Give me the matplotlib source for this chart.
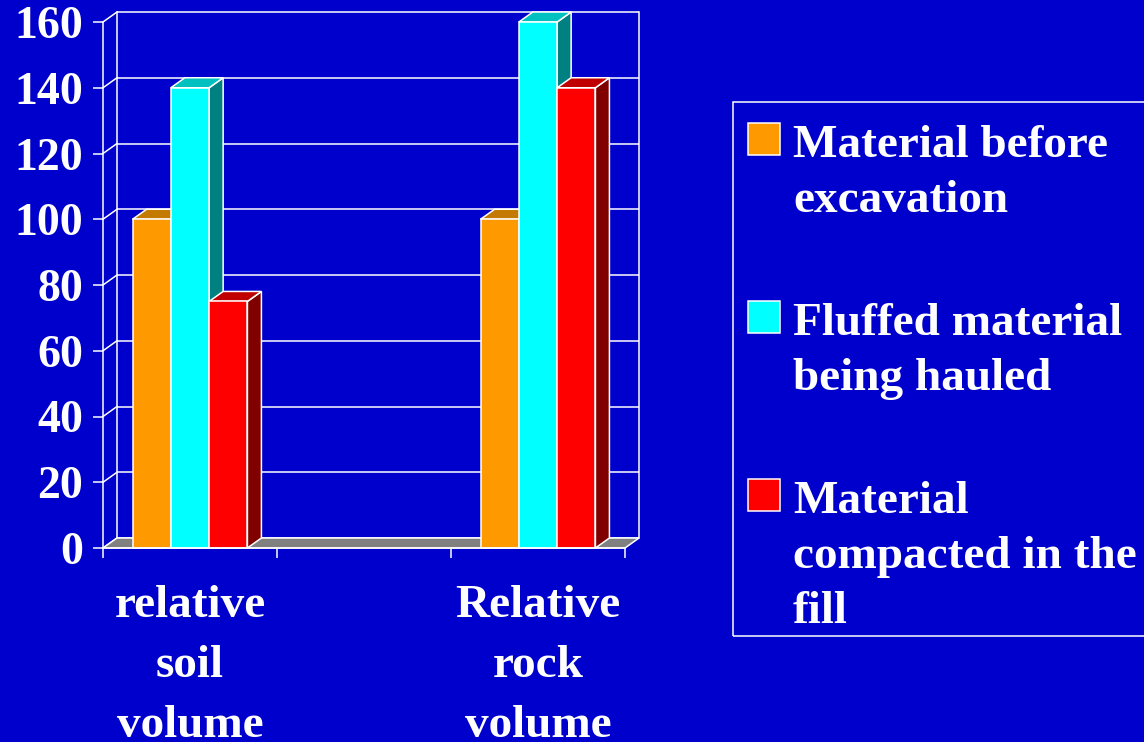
import matplotlib
matplotlib.use("Agg")
import matplotlib.pyplot as plt
from matplotlib.patches import Polygon, Rectangle
from matplotlib.transforms import blended_transform_factory

# ---------------- data ----------------
categories = ["relative\nsoil\nvolume", "Relative\nrock\nvolume"]
series_names = ["Material before\nexcavation",
                "Fluffed material\nbeing hauled",
                "Material\ncompacted in the\nfill"]
before_excavation = [100, 100]
fluffed_hauled = [140, 160]
compacted_fill = [75, 140]
series_values = [before_excavation, fluffed_hauled, compacted_fill]
yticks = [0, 20, 40, 60, 80, 100, 120, 140, 160]

# ---------------- style ----------------
BG = "#0000CC"
front_colors = ["#FF9900", "#00FFFF", "#FF0000"]
top_colors = ["#C47A00", "#00C0C0", "#C00000"]
side_colors = ["#7F4C00", "#008080", "#800000"]
FLOOR = "#808080"
FONT = "Liberation Serif"
LW = 1.1

W, H = 1144, 742
fig = plt.figure(figsize=(W / 100, H / 100), dpi=100, facecolor=BG)


def fx(px):
    return px / W


def fy(py):
    return 1 - py / H


# front plane of the 3-D chart
L, R, B, T = 103, 625, 548, 22
ax = fig.add_axes([fx(L), fy(B), (R - L) / W, (B - T) / H])
ax.set_facecolor("none")
xmin, xmax = -0.25, 1.25
ax.set_xlim(xmin, xmax)
ax.set_ylim(0, 160)

# depth offset (pixels -> data units via the axes scales)
DX_PX, DY_PX = 14, 10
p0 = ax.transData.transform((0, 0))
p1 = ax.transData.transform((1, 1))
ddx = DX_PX / (p1[0] - p0[0])
ddy = DY_PX / (p1[1] - p0[1])

# back wall grid lines & left wall diagonals
for v in yticks:
    ax.plot([xmin + ddx, xmax + ddx], [v + ddy, v + ddy], color="white",
            lw=LW, zorder=1, clip_on=False, solid_capstyle="butt")
    ax.plot([xmin, xmin + ddx], [v, v + ddy], color="white", lw=LW,
            zorder=1, clip_on=False)
for xv in (xmin + ddx, xmax + ddx):
    ax.plot([xv, xv], [ddy, 160 + ddy], color="white", lw=LW, zorder=1,
            clip_on=False)

# floor
floor = Polygon([(xmin, 0), (xmax, 0), (xmax + ddx, ddy), (xmin + ddx, ddy)],
                closed=True, facecolor=FLOOR, edgecolor="white", lw=LW,
                zorder=1.5, clip_on=False)
ax.add_patch(floor)

# bars
w = 0.11
for j, vals in enumerate(series_values):
    xs = [i + (j - 1) * w for i in range(len(categories))]
    for x, v in zip(xs, vals):
        x0, x1 = x - w / 2, x + w / 2
        side = Polygon([(x1, 0), (x1 + ddx, ddy), (x1 + ddx, v + ddy), (x1, v)],
                       closed=True, facecolor=side_colors[j], edgecolor="white",
                       lw=LW, zorder=2 + 3 * j, clip_on=False)
        top = Polygon([(x0, v), (x1, v), (x1 + ddx, v + ddy), (x0 + ddx, v + ddy)],
                      closed=True, facecolor=top_colors[j], edgecolor="white",
                      lw=LW, zorder=3 + 3 * j, clip_on=False)
        ax.add_patch(side)
        ax.add_patch(top)
    ax.bar(xs, vals, width=w, color=front_colors[j], edgecolor="white",
           linewidth=LW, zorder=4 + 3 * j, clip_on=False)

# axes styling
for s in ("top", "right"):
    ax.spines[s].set_visible(False)
for s in ("left", "bottom"):
    ax.spines[s].set_color("white")
    ax.spines[s].set_linewidth(LW)
    ax.spines[s].set_zorder(20)
ax.set_yticks(yticks)
ax.set_yticklabels([str(t) for t in yticks], fontsize=33, fontweight="bold",
                   family=FONT, color="white")
ax.set_xticks([-0.25, 0.25, 0.75, 1.25])
ax.set_xticklabels([])
ax.tick_params(axis="both", colors="white", length=7.2, width=LW,
               direction="out")
ax.tick_params(axis="y", pad=7)

# category labels (one text per line)
cat_tr = blended_transform_factory(ax.transData, fig.transFigure)
for i, lab in enumerate(categories):
    for k, line in enumerate(lab.split("\n")):
        y_px = 617 + 60 * k
        ax.text(i, fy(y_px), line, transform=cat_tr, fontsize=34,
                fontweight="bold", family=FONT, color="white",
                ha="center", va="baseline")

# legend
fig.patches.append(Rectangle((fx(733), fy(636)), fx(1160) - fx(733),
                             fy(102) - fy(636), transform=fig.transFigure,
                             facecolor="none", edgecolor="white", lw=LW))
for j, name in enumerate(series_names):
    top_px = 123 + 178 * j
    fig.patches.append(Rectangle((fx(748), fy(top_px + 32)), 32 / W, 32 / H,
                                 transform=fig.transFigure,
                                 facecolor=front_colors[j], edgecolor="white",
                                 lw=LW))
    for k, line in enumerate(name.split("\n")):
        base = 157 + 178 * j + 55 * k
        fig.text(fx(793), fy(base), line, fontsize=34, fontweight="bold",
                 family=FONT, color="white", ha="left", va="baseline")

fig.savefig("out.png", dpi=100, facecolor=BG)
